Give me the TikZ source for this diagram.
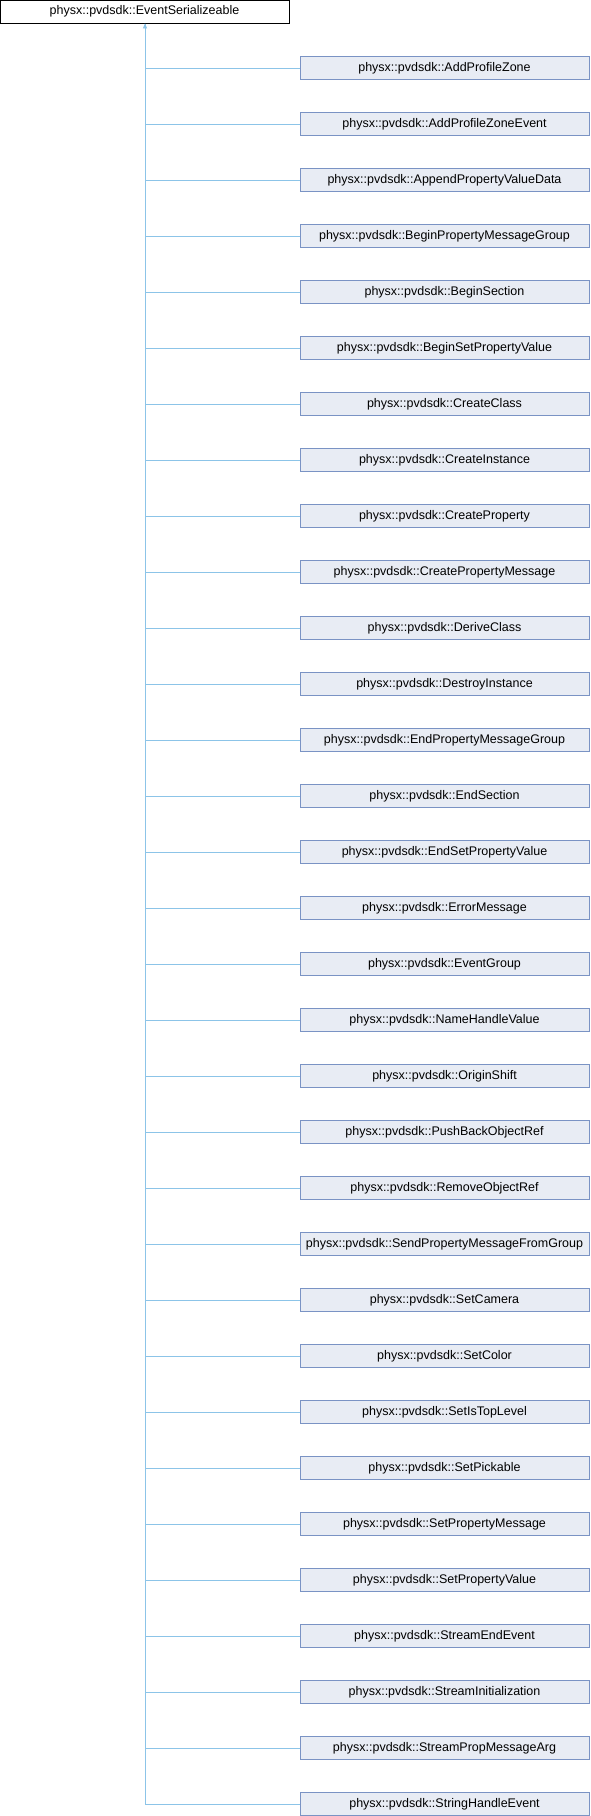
\documentclass[tikz,border=0pt]{standalone}
\usepackage{fontspec}
\setmainfont{Liberation Sans}
\usetikzlibrary{arrows.meta}
\definecolor{edgecol}{HTML}{8CC4E8}
\definecolor{boxfill}{HTML}{E8ECF4}
\definecolor{boxdraw}{HTML}{7A93C4}
\tikzset{
  base/.style={draw=black, fill=white, line width=0.8pt, minimum width=289pt, minimum height=23pt, inner sep=0pt, font=\fontsize{12.5}{14}\selectfont},
  child/.style={draw=boxdraw, fill=boxfill, line width=0.8pt, minimum width=289pt, minimum height=23pt, inner sep=0pt, font=\fontsize{12.5}{14}\selectfont},
  edge/.style={draw=edgecol, line width=0.8pt}
}
\begin{document}
\begin{tikzpicture}[x=1pt,y=-1pt]
\useasboundingbox (0,0) rectangle (590,1816);
\node[base] (root) at (144.5,11.5) {physx::pvdsdk::EventSerializeable};
\coordinate (trunk) at (145,23);
\foreach [count=\i from 0] \name in {AddProfileZone,AddProfileZoneEvent,AppendPropertyValueData,BeginPropertyMessageGroup,BeginSection,BeginSetPropertyValue,CreateClass,CreateInstance,CreateProperty,CreatePropertyMessage,DeriveClass,DestroyInstance,EndPropertyMessageGroup,EndSection,EndSetPropertyValue,ErrorMessage,EventGroup,NameHandleValue,OriginShift,PushBackObjectRef,RemoveObjectRef,SendPropertyMessageFromGroup,SetCamera,SetColor,SetIsTopLevel,SetPickable,SetPropertyMessage,SetPropertyValue,StreamEndEvent,StreamInitialization,StreamPropMessageArg,StringHandleEvent}{
  \node[child] (c\i) at (444.5,{68+56*\i}) {physx::pvdsdk::\name};
  \draw[edge] (c\i.west) -- (145,{68+56*\i});
}
\draw[edge] (c31.west) -| (145,24);
\draw[edge, -{Triangle[width=4pt,length=5pt]}] (145,34) -- (root.south -| trunk);
\end{tikzpicture}
\end{document}
